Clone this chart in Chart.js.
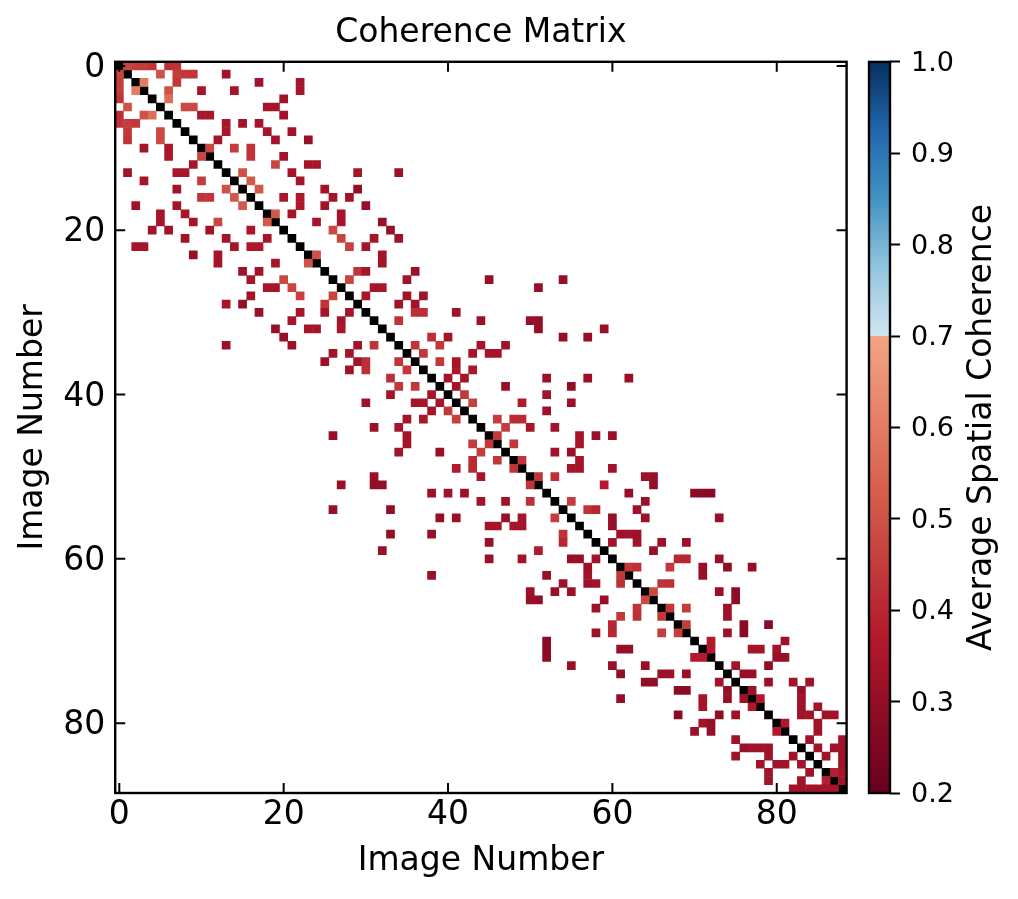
<!DOCTYPE html>
<html>
<head>
<meta charset="utf-8">
<title>Coherence Matrix</title>
<script src="https://cdn.jsdelivr.net/npm/chart.js@4"></script>
<style>
  html, body { margin: 0; padding: 0; background: #fff; overflow: hidden; }
  canvas { position: absolute; top: 0; }
  #matrixChart { left: 0; }
  #barChart { left: 862px; }
</style>
</head>
<body>
<canvas id="matrixChart" width="862" height="899"></canvas>
<canvas id="barChart" width="156" height="899"></canvas>
<script>
// image numbers on the diagonal (drawn black)
const imageNumbers = [
  0, 1, 2, 3, 4, 5, 6, 7, 8, 9, 10, 11, 12, 13, 14, 15, 16, 17, 18, 19, 20, 21, 22, 23, 24, 25, 26, 27, 28, 29,
  30, 31, 32, 33, 34, 35, 36, 37, 38, 39, 40, 41, 42, 43, 44, 45, 46, 47, 48, 49, 50, 51, 52, 53, 54, 55, 56, 57, 58, 59,
  60, 61, 62, 63, 64, 65, 66, 67, 68, 69, 70, 71, 72, 73, 74, 75, 76, 77, 78, 79, 80, 81, 82, 83, 84, 85, 86, 87, 88
];
const imageTicks = [0, 20, 40, 60, 80];
const coherenceTicks = [0.2, 0.3, 0.4, 0.5, 0.6, 0.7, 0.8, 0.9, 1.0];

// upper triangle: [image a, image b, coherence]; the matrix is symmetric
const upperCells = [
  [0,1,.47],[0,2,.45],[0,3,.45],[0,4,.43],[0,6,.42],[0,7,.43],
  [1,5,.5],[1,7,.45],[1,8,.44],[1,9,.43],[1,13,.33],
  [2,3,.6],[2,7,.44],[2,17,.33],[2,22,.34],
  [3,6,.5],[3,10,.34],[3,14,.34],[3,22,.34],
  [4,6,.57],[4,20,.33],
  [5,8,.48],[5,9,.48],[5,18,.34],[5,19,.34],
  [6,10,.35],[6,11,.35],[6,20,.33],
  [7,13,.35],[7,15,.33],[7,17,.34],
  [8,13,.35],[8,18,.34],[8,21,.33],
  [9,12,.34],[9,19,.34],[9,23,.31],
  [10,11,.47],[10,14,.45],[10,16,.43],
  [11,16,.43],[11,20,.33],
  [12,19,.47],[12,23,.34],[12,24,.34],
  [13,15,.5],[13,21,.34],[13,29,.34],[13,34,.32],
  [14,16,.52],[14,22,.34],
  [15,17,.52],[15,25,.33],[15,29,.3],
  [16,20,.35],[16,22,.36],[16,26,.34],[16,28,.33],
  [17,22,.36],[17,25,.33],[17,30,.31],
  [18,19,.52],[18,21,.34],[18,27,.34],
  [19,24,.34],[19,27,.34],[19,32,.31],
  [20,26,.48],[20,33,.31],
  [21,27,.47],[21,31,.34],[21,34,.32],
  [22,28,.46],[22,30,.34],
  [23,24,.5],[23,32,.34],
  [24,32,.34],
  [25,29,.43],[25,30,.34],[25,36,.32],
  [26,28,.47],[26,35,.33],[26,45,.31],[26,54,.31],
  [27,31,.34],[27,32,.35],[27,51,.31],
  [28,30,.34],[28,35,.34],[28,37,.33],
  [29,34,.33],[29,36,.33],
  [30,36,.42],[30,37,.42],[30,41,.33],
  [31,34,.43],[31,44,.32],[31,50,.31],[31,51,.3],
  [32,51,.3],[32,59,.31],
  [33,38,.42],[33,40,.34],[33,54,.3],[33,57,.3],
  [34,36,.43],[34,39,.44],[34,44,.34],[34,47,.33],
  [35,37,.44],[35,43,.34],[35,45,.34],[35,46,.34],
  [36,39,.44],[36,41,.34],
  [37,41,.35],[37,43,.35],
  [38,40,.34],[38,42,.34],[38,52,.32],[38,57,.31],[38,62,.31],
  [39,41,.34],[39,47,.31],[39,55,.3],
  [40,42,.44],[40,52,.33],
  [41,43,.46],[41,49,.37],[41,55,.32],
  [42,52,.32],
  [43,46,.45],[43,48,.41],[43,49,.41],
  [44,47,.45],[44,50,.34],[44,53,.33],
  [45,46,.44],[45,56,.34],[45,58,.31],[45,60,.31],
  [46,48,.44],[46,56,.34],
  [47,53,.33],[47,55,.31],
  [48,49,.43],[48,56,.34],
  [49,55,.34],[49,56,.34],[49,60,.33],
  [50,51,.43],[50,53,.42],[50,64,.32],[50,65,.31],
  [51,59,.37],[51,65,.3],
  [52,62,.31],[52,70,.28],[52,71,.28],[52,72,.28],
  [53,55,.45],[53,64,.31],
  [54,57,.43],[54,58,.4],[54,63,.32],
  [55,60,.31],[55,64,.32],[55,73,.31],
  [56,60,.31],
  [57,61,.32],[57,62,.33],[57,63,.32],
  [58,60,.33],[58,63,.33],[58,66,.32],[58,69,.32],
  [59,65,.31],
  [60,68,.4],[60,69,.4],[60,73,.31],
  [61,62,.44],[61,63,.42],[61,67,.44],[61,71,.31],[61,74,.29],[61,77,.3],
  [62,71,.31],
  [63,66,.43],[63,67,.42],
  [64,65,.48],[64,73,.31],[64,75,.29],
  [65,75,.29],
  [66,67,.44],[66,69,.45],[66,74,.32],
  [67,74,.32],
  [68,69,.45],[68,76,.28],[68,79,.28],
  [69,74,.32],[69,76,.28],
  [70,72,.37],[70,81,.32],
  [71,72,.37],[71,77,.34],[71,78,.34],[71,80,.33],
  [72,80,.31],[72,81,.31],
  [73,75,.33],[73,79,.29],
  [74,76,.31],[74,77,.31],
  [75,79,.32],[75,82,.33],[75,84,.33],
  [76,77,.32],[76,83,.31],
  [77,78,.36],[77,83,.33],
  [78,83,.33],[78,85,.33],
  [79,83,.33],[79,84,.33],[79,86,.33],[79,87,.33],
  [80,81,.36],[80,85,.33],
  [81,85,.33],
  [82,84,.33],[82,88,.33],
  [83,85,.33],[83,87,.33],[83,88,.33],
  [84,86,.33],[84,88,.33],
  [85,88,.33],
  [86,87,.38],[86,88,.34],
  [87,88,.34]
];

// colour map: red part up to 0.7, then a hard step into the blue part
const redStops = [[0.2, '#67001f'], [0.367, '#b2182b'], [0.533, '#d6604d'], [0.7, '#f4a582']];
const blueStops = [[0.7, '#d1e5f0'], [0.775, '#92c5de'], [0.85, '#4393c3'], [0.925, '#2166ac'], [1.0, '#053061']];

const FONT = '"DejaVu Sans"';
const TICK_SIZE = 33;
const BAR_TICK_SIZE = 27;
const LABEL_SIZE = 33;
Chart.defaults.font.family = FONT;
Chart.defaults.color = '#000';

function hexToRgb(hex) {
  return [1, 3, 5].map(i => parseInt(hex.slice(i, i + 2), 16));
}

// colour for a coherence value
function coherenceColor(v) {
  const stops = v < 0.7 ? redStops : blueStops;
  for (let i = 0; i < stops.length - 1; i++) {
    const [v0, c0] = stops[i];
    const [v1, c1] = stops[i + 1];
    if (v <= v1) {
      const t = Math.max(0, (v - v0) / (v1 - v0));
      const a = hexToRgb(c0), b = hexToRgb(c1);
      return `rgb(${a.map((x, k) => Math.round(x + (b[k] - x) * t)).join(',')})`;
    }
  }
  return stops[stops.length - 1][1];
}

// 1. Points for the matrix (both triangles)
const cellPoints = [];
upperCells.forEach(([a, b, v]) => {
  cellPoints.push({ x: b, y: a, v: v });
  cellPoints.push({ x: a, y: b, v: v });
});
const diagonalPoints = imageNumbers.map(n => ({ x: n, y: n }));

// rect point style: half side = radius / sqrt(2), so size the radius from one scale unit
function cellRadius(ctx) {
  const scale = ctx.chart.scales.x;
  const side = Math.abs(scale.getPixelForValue(1) - scale.getPixelForValue(0));
  return (side / 2 + 0.25) * Math.SQRT2;
}

// canvas "middle" sits a little high for these digits, nudge the y labels down
const nudgeLabels = {
  id: 'nudgeLabels',
  beforeDraw(chart, args, opts) {
    chart.scales.y.getLabelItems().forEach(item => { item.options.translation[1] += opts.dy; });
  }
};

// black frame plus inward ticks on all four sides
const frameTicks = {
  id: 'frameTicks',
  afterDatasetsDraw(chart) {
    const { ctx, chartArea: area, scales } = chart;
    const len = 10;
    ctx.save();
    ctx.strokeStyle = '#000';
    ctx.lineWidth = 2;
    ctx.beginPath();
    imageTicks.forEach(t => {
      const px = scales.x.getPixelForValue(t);
      const py = scales.y.getPixelForValue(t);
      ctx.moveTo(px, area.top); ctx.lineTo(px, area.top + len);
      ctx.moveTo(px, area.bottom); ctx.lineTo(px, area.bottom - len);
      ctx.moveTo(area.left, py); ctx.lineTo(area.left + len, py);
      ctx.moveTo(area.right, py); ctx.lineTo(area.right - len, py);
    });
    ctx.stroke();
    ctx.lineWidth = 2.4;
    ctx.strokeRect(area.left, area.top, area.right - area.left, area.bottom - area.top);
    ctx.restore();
  }
};

function imageAxis(axisId, reverse, size, tickPadding) {
  return {
    type: 'linear',
    min: -0.5,
    max: 88.5,
    reverse: reverse,
    afterBuildTicks: s => { s.ticks = imageTicks.map(v => ({ value: v })); },
    afterFit: s => { if (axisId === 'x') s.height = size; else s.width = size; },
    grid: { display: true, drawOnChartArea: false, drawTicks: false },
    border: { display: false },
    ticks: { font: { size: TICK_SIZE }, padding: tickPadding, maxRotation: 0, autoSkip: false },
    title: { display: true, text: 'Image Number', font: { size: LABEL_SIZE }, padding: { top: 2, bottom: 4 } }
  };
}

// 2. The matrix
new Chart(document.getElementById('matrixChart'), {
  type: 'scatter',
  data: {
    datasets: [
      {
        label: 'Average Spatial Coherence',
        data: cellPoints,
        pointStyle: 'rect',
        pointRadius: cellRadius,
        pointBorderWidth: 0,
        pointBackgroundColor: ctx => coherenceColor(ctx.raw.v)
      },
      {
        label: 'Diagonal',
        data: diagonalPoints,
        pointStyle: 'rect',
        pointRadius: cellRadius,
        pointBorderWidth: 0,
        pointBackgroundColor: '#000'
      }
    ]
  },
  options: {
    responsive: false,
    animation: false,
    layout: { padding: { left: 12, right: 15.4, top: 0, bottom: 14 } },
    scales: {
      x: imageAxis('x', false, 92, 3),
      y: imageAxis('y', true, 103.2, 10)
    },
    plugins: {
      legend: { display: false },
      tooltip: { enabled: false },
      nudgeLabels: { dy: 2.5 },
      title: {
        display: true,
        text: 'Coherence Matrix',
        fullSize: false,
        font: { size: LABEL_SIZE, weight: 'normal' },
        padding: { top: 14, bottom: 8.2 }
      }
    }
  },
  plugins: [nudgeLabels, frameTicks]
});

// the bar of the colour scale, filled from the same stops through its y scale
function barGradient(ctx) {
  const { ctx: c, chartArea, scales } = ctx.chart;
  if (!chartArea) return '#000';
  const g = c.createLinearGradient(0, scales.y.getPixelForValue(0.2), 0, scales.y.getPixelForValue(1.0));
  redStops.concat(blueStops).forEach(([v, color]) => g.addColorStop((v - 0.2) / 0.8, color));
  return g;
}

const colorbarLabel = {
  id: 'colorbarLabel',
  afterDraw(chart) {
    const { ctx, chartArea: area } = chart;
    ctx.save();
    ctx.strokeStyle = '#000';
    ctx.lineWidth = 2.4;
    ctx.strokeRect(area.left, area.top, area.right - area.left, area.bottom - area.top);
    ctx.translate(area.right + 92, (area.top + area.bottom) / 2);
    ctx.rotate(-Math.PI / 2);
    ctx.fillStyle = '#000';
    ctx.font = `${LABEL_SIZE}px ${FONT}`;
    ctx.textAlign = 'center';
    ctx.textBaseline = 'middle';
    ctx.fillText('Average Spatial Coherence', 0, 0);
    ctx.restore();
  }
};

// 3. The colour scale
new Chart(document.getElementById('barChart'), {
  type: 'bar',
  data: {
    labels: [''],
    datasets: [{
      data: [[0.2, 1.0]],
      backgroundColor: barGradient,
      borderWidth: 0,
      barPercentage: 1,
      categoryPercentage: 1
    }]
  },
  options: {
    responsive: false,
    animation: false,
    layout: { padding: { left: 7, right: 0, top: 61.9, bottom: 106 } },
    scales: {
      x: { display: false },
      y: {
        position: 'right',
        min: 0.2,
        max: 1.0,
        afterBuildTicks: s => { s.ticks = coherenceTicks.map(v => ({ value: v })); },
        afterFit: s => { s.width = 128; },
        grid: { drawOnChartArea: false, tickLength: 10, tickWidth: 2, tickColor: '#000' },
        border: { display: false },
        ticks: { font: { size: BAR_TICK_SIZE }, padding: 11, callback: v => v.toFixed(1) }
      }
    },
    plugins: {
      legend: { display: false },
      tooltip: { enabled: false },
      nudgeLabels: { dy: 2 }
    }
  },
  plugins: [nudgeLabels, colorbarLabel]
});
</script>
</body>
</html>
